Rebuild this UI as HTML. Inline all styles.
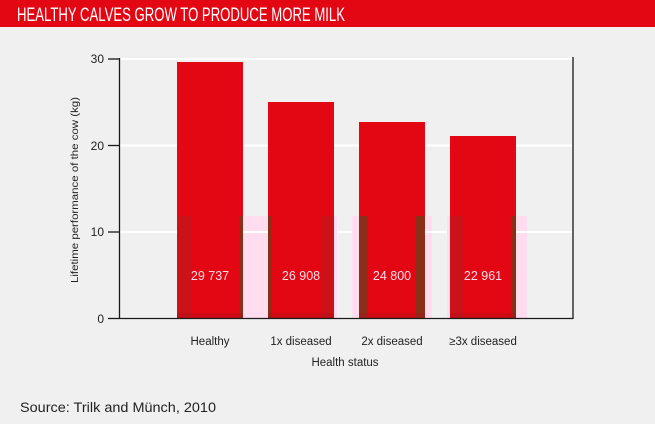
<!DOCTYPE html>
<html><head><meta charset="utf-8"><style>
html,body{margin:0;padding:0;background:#f0f0f0;}
svg{display:block;}
text{font-family:"Liberation Sans",sans-serif;}
</style></head><body>
<svg width="655" height="424" viewBox="0 0 655 424" xmlns="http://www.w3.org/2000/svg">
<rect x="0" y="0" width="655" height="424" fill="#f0f0f0"/>
<rect x="0" y="0" width="655" height="27" fill="#e30613"/>
<text x="17" y="21" font-size="19" fill="#ffffff" textLength="328" lengthAdjust="spacingAndGlyphs">HEALTHY CALVES GROW TO PRODUCE MORE MILK</text>

<!-- gridlines -->
<g stroke="#ffffff" stroke-width="2">
<line x1="120" y1="59" x2="572" y2="59"/>
<line x1="120" y1="145.5" x2="572" y2="145.5"/>
<line x1="120" y1="232" x2="572" y2="232"/>
</g>

<!-- pink overlay boxes -->
<g fill="#ffdcee">
<rect x="177" y="216" width="91" height="102"/>
<rect x="334" y="216" width="3" height="102"/>
<rect x="352" y="216" width="80" height="102"/>
<rect x="447" y="216" width="80" height="102"/>
</g>
<g stroke="#ffffff" stroke-width="2">
<line x1="243" y1="232" x2="268" y2="232"/>
<line x1="425" y1="232" x2="432" y2="232"/>
<line x1="516" y1="232" x2="527" y2="232"/>
</g>

<!-- bars -->
<g fill="#e30613">
<rect x="177" y="62" width="66" height="256"/>
<rect x="268" y="102" width="66" height="216"/>
<rect x="359" y="122" width="66" height="196"/>
<rect x="450" y="136" width="66" height="182"/>
</g>

<!-- stripes -->
<g fill="#c8141a" opacity="0.9">
<rect x="177" y="216" width="14" height="102"/>
<rect x="321" y="216" width="13" height="102"/>
<rect x="450" y="216" width="14" height="102"/>
</g>
<g fill="#8a3018">
<rect x="240" y="216" width="3" height="102"/>
<rect x="268" y="216" width="4" height="102"/>
<rect x="359" y="216" width="9" height="102"/>
<rect x="416" y="216" width="9" height="102"/>
<rect x="512" y="216" width="4" height="102"/>
</g>
<g fill="#b01018" opacity="0.4">
<rect x="177" y="313" width="66" height="5"/>
<rect x="268" y="313" width="66" height="5"/>
<rect x="359" y="313" width="66" height="5"/>
<rect x="450" y="313" width="66" height="5"/>
</g>

<!-- value labels -->
<g font-size="12.5" fill="#ffdce8" text-anchor="middle">
<text x="210" y="280">29 737</text>
<text x="301" y="280">26 908</text>
<text x="392" y="280">24 800</text>
<text x="483" y="280">22 961</text>
</g>

<!-- axes -->
<g stroke="#1a1a1a" stroke-width="1.3" fill="none">
<line x1="119.5" y1="58" x2="119.5" y2="318.5"/>
<line x1="119" y1="318.5" x2="573" y2="318.5"/>
<line x1="573" y1="57" x2="573" y2="319"/>
<line x1="108" y1="59" x2="119" y2="59"/>
<line x1="108" y1="145.5" x2="119" y2="145.5"/>
<line x1="108" y1="232" x2="119" y2="232"/>
<line x1="108" y1="318.5" x2="119" y2="318.5"/>
</g>
<g font-size="12" fill="#222" text-anchor="end">
<text x="104" y="63">30</text>
<text x="104" y="150">20</text>
<text x="104" y="236">10</text>
<text x="104" y="323">0</text>
</g>

<text transform="translate(78,190) rotate(-90)" font-size="10.5" fill="#222" text-anchor="middle" textLength="186" lengthAdjust="spacingAndGlyphs">Lifetime performance of the cow (kg)</text>

<g font-size="11.5" fill="#222" text-anchor="middle">
<text x="210" y="345">Healthy</text>
<text x="301" y="345">1x diseased</text>
<text x="392" y="345">2x diseased</text>
<text x="483" y="345">≥3x diseased</text>
<text x="345" y="366">Health status</text>
</g>

<text x="20" y="412" font-size="13.5" fill="#222" textLength="196" lengthAdjust="spacingAndGlyphs">Source: Trilk and Münch, 2010</text>
</svg>
</body></html>
